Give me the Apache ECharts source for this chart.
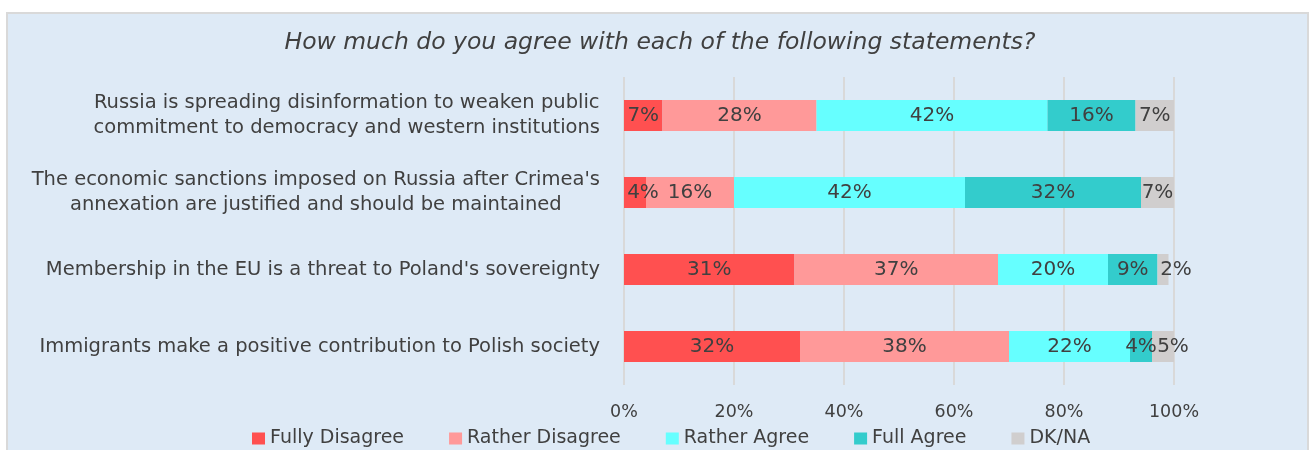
<!DOCTYPE html>
<html>
<head>
	<meta charset="utf-8">
	<title>Statements</title>
	<style>
		body{margin:0;background:#fff;overflow:hidden}
		#box{position:absolute;left:6px;top:12px;width:1303px;height:460px;box-sizing:border-box;
			background:#DEEAF6;border:2px solid #D9D9D9}
		#main{position:absolute;left:0;top:0;width:1309px;height:450px}
	</style>
</head>
<body>
<div id="box"></div>
<div id="main"></div>
<script src="https://cdn.jsdelivr.net/npm/echarts@6/dist/echarts.min.js"></script>
<script>
	var categories = [
		"Russia is spreading disinformation to weaken public\ncommitment to democracy and western institutions",
		"The economic sanctions imposed on Russia after Crimea's\nannexation are justified and should be maintained",
		"Membership in the EU is a threat to Poland's sovereignty",
		"Immigrants make a positive contribution to Polish society"
	];
	var seriesNames = ['Fully Disagree', 'Rather Disagree', 'Rather Agree', 'Full Agree', 'DK/NA'];
	var fullyDisagree = [7, 4, 31, 32];
	var ratherDisagree = [28, 16, 37, 38];
	var ratherAgree = [42, 42, 20, 22];
	var fullAgree = [16, 32, 9, 4];
	var dkNa = [7, 7, 2, 5];
	var xTicks = [0, 20, 40, 60, 80, 100];

	var colors = ['#FF5050', '#FF9999', '#66FFFF', '#33CCCC', '#D0CECE'];
	var font = 'DejaVu Sans';
	var txt = '#404040';
	// small labels that were pushed right in the original (series index - row index: px)
	var nudge = {'0-1': 8, '4-2': 13, '4-3': 10};

	var myChart = echarts.init(document.getElementById('main'));
	var values = [fullyDisagree, ratherDisagree, ratherAgree, fullAgree, dkNa];
	var series = values.map(function (v, i) {
		return {
			name: seriesNames[i],
			type: 'bar',
			stack: 'total',
			barWidth: 31,
			data: v.map(function (d, j) {
				var n = nudge[i + '-' + j];
				return n ? {value: d, label: {offset: [n, 0]}} : d;
			}),
			itemStyle: {color: colors[i]},
			label: {
				show: true,
				position: 'inside',
				formatter: '{c}%',
				color: txt,
				fontSize: 20,
				fontFamily: font
			}
		};
	});

	var option = {
		animation: false,
		title: {
			text: 'How much do you agree with each of the following statements?',
			left: 660,
			top: 31,
			padding: 0,
			textAlign: 'center',
			textStyle: {fontStyle: 'italic', fontWeight: 'normal', fontSize: 23.5, color: txt, fontFamily: font}
		},
		legend: {
			data: seriesNames,
			left: 252,
			top: 429,
			padding: 0,
			icon: 'rect',
			itemWidth: 13,
			itemHeight: 12,
			itemGap: 45,
			textStyle: {fontSize: 19, color: txt, fontFamily: font}
		},
		grid: {left: 624, right: 135, top: 77, height: 308, outerBoundsMode: 'none'},
		xAxis: {
			type: 'value',
			min: xTicks[0],
			max: xTicks[xTicks.length - 1],
			interval: 20,
			axisLine: {show: false},
			axisTick: {show: false},
			axisLabel: {formatter: '{value}%', fontSize: 17.5, color: txt, fontFamily: font, margin: 18},
			splitLine: {lineStyle: {color: '#D9D9D9', width: 2}}
		},
		yAxis: {
			type: 'category',
			inverse: true,
			data: categories,
			axisLine: {show: false},
			axisTick: {show: false},
			axisLabel: {
				margin: 24,
				formatter: function (v) {
					// lines centred on each other, block right-aligned
					return v.split('\n').map(function (l) { return '{c|' + l + '}'; }).join('\n');
				},
				rich: {
					c: {align: 'center', fontSize: 19.5, lineHeight: 25, color: txt, fontFamily: font}
				}
			}
		},
		series: series
	};
	myChart.setOption(option);
</script>
</body>
</html>
